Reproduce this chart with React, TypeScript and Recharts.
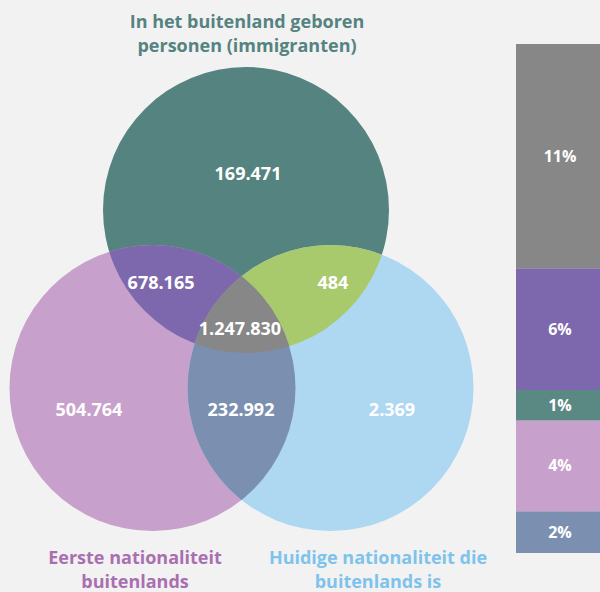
import { Bar, BarChart, LabelList, Scatter, ScatterChart, XAxis, YAxis } from 'recharts'

// Venn circles, centres in units of one radius (y points up)
const circleIds = ['top', 'left', 'right']
const circleX = [0, -0.654, 0.591]
const circleY = [0, -1.245, -1.245]
const circleR = [1, 1, 1]
const circleColors = ['#55837f', '#c7a0cb', '#aed7f2']

// overlaps: circle A clipped by circle B
const pairA = ['top', 'top', 'left']
const pairB = ['left', 'right', 'right']
const pairColors = ['#7e68ad', '#a8ca6c', '#7b8fb0']
const tripleColor = '#878787'

// region counts and where their labels sit (venn units)
const regionValues = ['169.471', '678.165', '484', '1.247.830', '504.764', '232.992', '2.369']
const regionX = [0.014, -0.594, 0.608, -0.042, -1.098, -0.035, 1.021]
const regionY = [0.259, -0.503, -0.503, -0.825, -1.392, -1.392, -1.392]

// stacked bar, bottom to top
const segmentKeys = ['eersteEnHuidig', 'alleenEerste', 'alleenGeboren', 'geborenEnEerste', 'alleDrie']
const segmentValues = [232992, 504764, 169471, 678165, 1247830]
const segmentPct = ['2%', '4%', '1%', '6%', '11%']
const segmentColors = ['#7b8fb0', '#c7a0cb', '#5a8883', '#7e68ad', '#878787']

const VENN_W = 490
const VENN_H = 592
const X_DOMAIN: [number, number] = [-1.7203, 1.7063]
const Y_DOMAIN: [number, number] = [-2.6713, 1.4685]
const UNIT = VENN_W / (X_DOMAIN[1] - X_DOMAIN[0])

const circles = circleIds.map((id, i) => ({ id, x: circleX[i], y: circleY[i], r: circleR[i], fill: circleColors[i] }))
const byId = (id: string) => circles.find((c) => c.id === id)!
const lenses = pairA.map((a, i) => {
  const c = byId(a)
  return { x: c.x, y: c.y, r: c.r, fill: pairColors[i], clips: [pairB[i]] }
})
const triple = [{ x: byId('top').x, y: byId('top').y, r: byId('top').r, fill: tripleColor, clips: ['left', 'right'] }]
const regionLabels = regionValues.map((v, i) => ({ x: regionX[i], y: regionY[i], value: v }))

const barRow: Record<string, number | string> = { name: 'totaal' }
segmentKeys.forEach((k, i) => (barRow[k] = segmentValues[i]))

function CircleShape(props: any) {
  const { cx, cy, payload } = props
  const r = payload.r * UNIT
  return (
    <g>
      <defs>
        <clipPath id={`clip-${payload.id}`}>
          <circle cx={cx} cy={cy} r={r} />
        </clipPath>
      </defs>
      <circle cx={cx} cy={cy} r={r} fill={payload.fill} />
    </g>
  )
}

function LensShape(props: any) {
  const { cx, cy, payload } = props
  let node = <circle cx={cx} cy={cy} r={payload.r * UNIT} fill={payload.fill} />
  for (const id of payload.clips) node = <g clipPath={`url(#clip-${id})`}>{node}</g>
  return node
}

function LabelShape(props: any) {
  const { cx, cy, payload } = props
  return (
    <text x={cx} y={cy} textAnchor="middle" dominantBaseline="central" fill="#fff" fontSize={18} fontWeight={700}>
      {payload.value}
    </text>
  )
}

const titleStyle = {
  position: 'absolute' as const,
  textAlign: 'center' as const,
  fontSize: 18,
  fontWeight: 700,
  lineHeight: '24px',
}

export default function App() {
  return (
    <div
      style={{
        position: 'fixed',
        left: 0,
        top: 0,
        width: 600,
        height: 592,
        background: '#f2f2f2',
        overflow: 'hidden',
        fontFamily: '"Open Sans", sans-serif',
      }}
    >
      <div style={{ position: 'absolute', left: 0, top: 0 }}>
        <ScatterChart width={VENN_W} height={VENN_H} margin={{ top: 0, right: 0, bottom: 0, left: 0 }}>
          <XAxis type="number" dataKey="x" domain={X_DOMAIN} hide allowDataOverflow />
          <YAxis type="number" dataKey="y" domain={Y_DOMAIN} hide allowDataOverflow />
          <Scatter data={circles} shape={(p: any) => <CircleShape {...p} />} isAnimationActive={false} />
          <Scatter data={lenses} shape={(p: any) => <LensShape {...p} />} isAnimationActive={false} />
          <Scatter data={triple} shape={(p: any) => <LensShape {...p} />} isAnimationActive={false} />
          <Scatter data={regionLabels} shape={(p: any) => <LabelShape {...p} />} isAnimationActive={false} />
        </ScatterChart>
      </div>

      <div style={{ position: 'absolute', left: 516, top: 0 }}>
        <BarChart width={88} height={592} data={[barRow]} margin={{ top: 44, right: 0, bottom: 39, left: 0 }} barCategoryGap={0}>
          <XAxis dataKey="name" hide />
          <YAxis hide domain={[0, 'dataMax']} />
          {segmentKeys.map((k, i) => (
            <Bar key={k} dataKey={k} stackId="a" fill={segmentColors[i]} isAnimationActive={false}>
              <LabelList
                dataKey={k}
                position="center"
                fill="#fff"
                fontSize={16}
                fontWeight={700}
                formatter={() => segmentPct[i]}
              />
            </Bar>
          ))}
        </BarChart>
      </div>

      <div style={{ ...titleStyle, left: 47, top: 9, width: 400, color: '#55837f' }}>
        In het buitenland geboren
        <br />
        personen (immigranten)
      </div>
      <div style={{ ...titleStyle, left: 15, top: 545, width: 240, color: '#a96fb1' }}>
        Eerste nationaliteit
        <br />
        buitenlands
      </div>
      <div style={{ ...titleStyle, left: 248, top: 545, width: 260, color: '#7ec3ec' }}>
        Huidige nationaliteit die
        <br />
        buitenlands is
      </div>
    </div>
  )
}
